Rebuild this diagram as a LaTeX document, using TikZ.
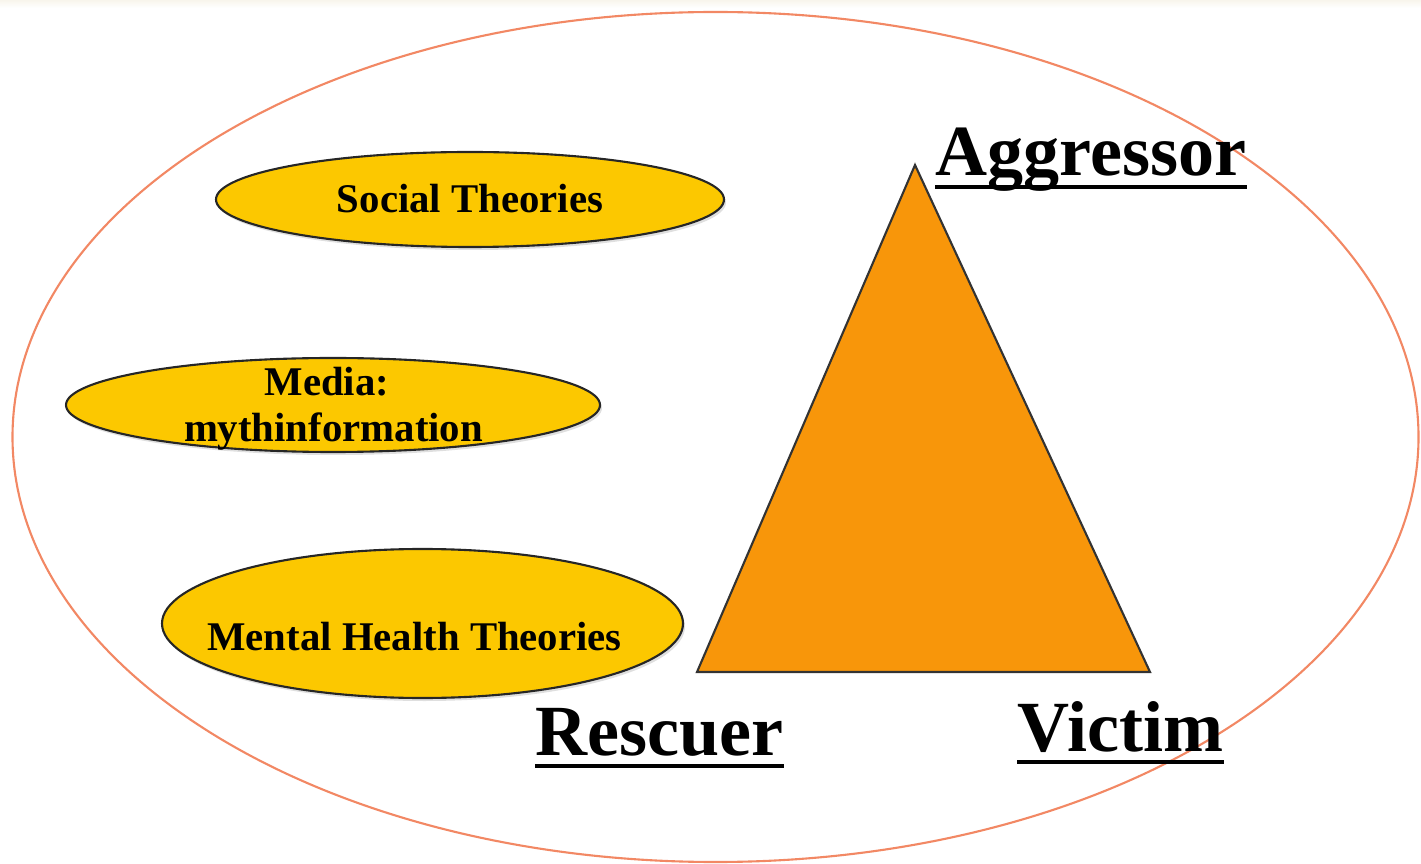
\documentclass[tikz,border=0pt]{standalone}
\usepackage{fontspec}
\setmainfont{Liberation Serif}
\usetikzlibrary{shapes.geometric,shadows}
\definecolor{frameline}{RGB}{242,136,100}
\definecolor{gold}{RGB}{252,200,0}
\definecolor{tri}{RGB}{248,150,10}
\definecolor{topband}{RGB}{248,245,236}
\tikzset{
  oval/.style={ellipse, draw=black!85, line width=0.6pt, fill=gold, inner sep=0pt,
    drop shadow={opacity=0.25, shadow xshift=0.02cm, shadow yshift=-0.03cm}},
  small/.style={font=\fontsize{11.6}{12.2}\selectfont\bfseries, inner sep=0pt, anchor=base},
  big/.style={font=\fontsize{20.5}{24}\selectfont\bfseries, inner sep=0pt, anchor=base west},
  uline/.style={line width=1.1pt, black}
}
\begin{document}
\begin{tikzpicture}
\useasboundingbox (0,0) rectangle (14.21,8.63);
\shade[top color=topband, bottom color=white] (0,8.55) rectangle (14.21,8.63);
% outer frame
\node[ellipse, draw=frameline, line width=0.6pt, minimum width=14.06cm, minimum height=8.5cm, inner sep=0pt] (frame) at (7.155,4.26) {};
% ovals
\node[oval, minimum width=5.08cm, minimum height=0.95cm] (soc) at (4.70,6.635) {};
\node[small] (soct) at (4.70,6.50) {Social Theories};
\node[oval, minimum width=5.34cm, minimum height=0.94cm] (med) at (3.33,4.58) {};
\node[small] (medt1) at (3.27,4.675) {Media:};
\node[small] (medt2) at (3.335,4.21) {mythinformation};
\node[oval, minimum width=5.21cm, minimum height=1.49cm] (men) at (4.225,2.395) {};
\node[small] (ment) at (4.145,2.13) {Mental Health Theories};
% triangle
\coordinate (apex) at (9.15,6.98);
\coordinate (bl) at (6.97,1.91);
\coordinate (br) at (11.50,1.91);
\draw[fill=tri, draw=black!80, line width=0.6pt, line join=miter] (apex) -- (br) -- (bl) -- cycle;
% labels
\node[big] (agg) at (9.35,6.87) {Aggressor};
\draw[uline] ([yshift=-0.11cm]agg.base west) -- ([yshift=-0.11cm]agg.base east);
\node[big] (res) at (5.35,1.08) {Rescuer};
\draw[uline] ([yshift=-0.11cm]res.base west) -- ([yshift=-0.11cm]res.base east);
\node[big] (vic) at (10.17,1.12) {Victim};
\draw[uline] ([yshift=-0.11cm]vic.base west) -- ([yshift=-0.11cm]vic.base east);
\end{tikzpicture}
\end{document}
